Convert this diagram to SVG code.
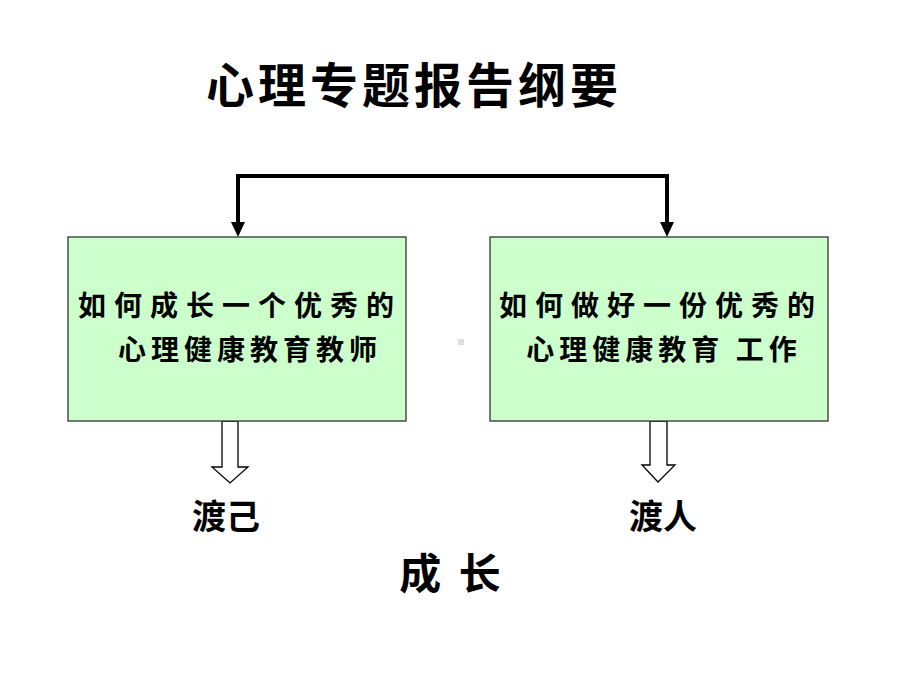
<svg xmlns="http://www.w3.org/2000/svg" width="920" height="690" viewBox="0 0 920 690">
<style>
.box{fill:#CCFFCC;stroke:#333;stroke-width:1.3}
.cal{font-family:"Noto Sans CJK SC","Noto Sans CJK TC",sans-serif;font-weight:700;fill:#000}
.lbl{font-family:"Noto Sans CJK SC","Noto Sans CJK TC",sans-serif;font-weight:700;fill:#000}
.blk{fill:#fff;stroke:#000;stroke-width:1.3;stroke-linejoin:miter}
.conn{fill:none;stroke:#000;stroke-width:4;stroke-linejoin:miter}
.head{fill:#000}
</style>
<rect width="920" height="690" fill="#fff"/>
<text id="title" x="414" y="103" text-anchor="middle" class="lbl" font-size="48" letter-spacing="4">心理专题报告纲要</text>
<g id="connectors">
<path class="conn" d="M238,224 V176 H667 V224"/>
<polygon class="head" points="231,222 245,222 238,237"/>
<polygon class="head" points="660,222 674,222 667,237"/>
<path class="blk" d="M222,421 V467 H212 L230,483 L248,467 H238 V421 Z"/>
<path class="blk" d="M650,421 V465 H642 L658,482 L675,465 H667 V421 Z"/>
</g>
<g id="box-left">
<rect class="box" x="68" y="237" width="338" height="184"/>
<text class="cal" x="240" y="316" text-anchor="middle" font-size="28" letter-spacing="8">如何成长一个优秀的</text>
<text class="cal" x="250" y="360" text-anchor="middle" font-size="28" letter-spacing="5">心理健康教育教师</text>
</g>
<g id="box-right">
<rect class="box" x="490" y="237" width="338" height="184"/>
<text class="cal" x="661" y="316" text-anchor="middle" font-size="28" letter-spacing="8">如何做好一份优秀的</text>
<text class="cal" x="664" y="360" text-anchor="middle" font-size="28" letter-spacing="5">心理健康教育 工作</text>
</g>
<rect x="458" y="339" width="6" height="6" fill="#ddd"/>
<g id="label-left"><text class="lbl" x="226" y="529" text-anchor="middle" font-size="34">渡己</text></g>
<g id="label-right"><text class="lbl" x="663" y="529" text-anchor="middle" font-size="34">渡人</text></g>
<g id="label-bottom"><text class="cal" x="452" y="589" text-anchor="middle" font-size="42" font-weight="900" letter-spacing="4">成 长</text></g>
</svg>
